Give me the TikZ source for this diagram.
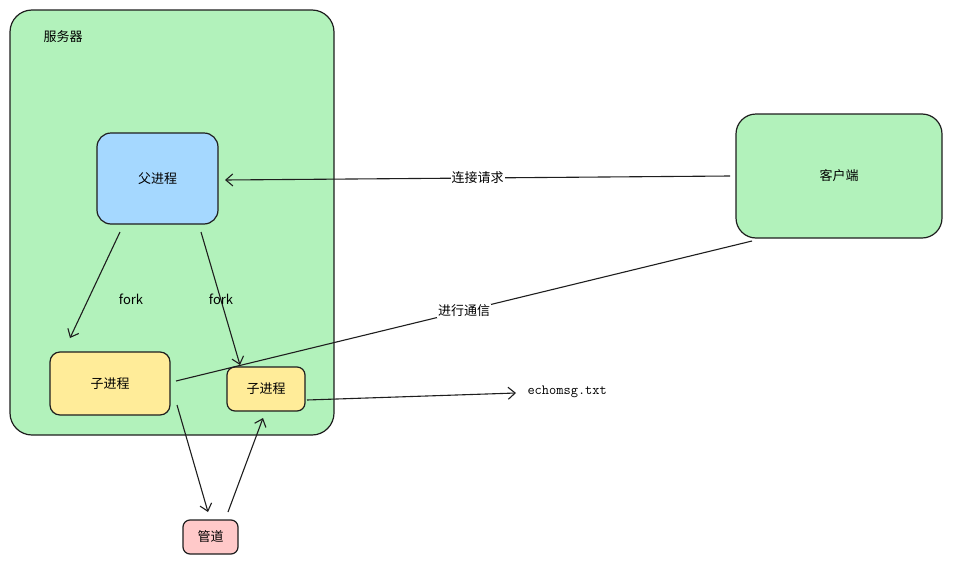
\documentclass[tikz,border=0pt]{standalone}
\usepackage{fontspec}
\setmainfont{Noto Sans CJK SC}
\usetikzlibrary{arrows.meta}
\definecolor{gr}{HTML}{B2F2BB}
\definecolor{bl}{HTML}{A5D8FF}
\definecolor{ye}{HTML}{FFEC99}
\definecolor{rd}{HTML}{FFC9C9}
\definecolor{ln}{HTML}{1E1E1E}
\begin{document}
\begin{tikzpicture}[x=1pt,y=-1pt,
 box/.style={draw=ln,line width=1.2pt,rounded corners=14pt,font=\fontsize{13}{15}\selectfont},
 arr/.style={draw=ln,line width=1.1pt,-{Straight Barb[length=7pt,width=12pt]}},
 lbl/.style={font=\fontsize{13}{15}\selectfont,fill=white,inner sep=1pt}]
\useasboundingbox (0,0) rectangle (953,565);
\draw[box,fill=gr,rounded corners=22pt] (10,10) rectangle (334,435);
\node[font=\fontsize{13}{15}\selectfont] (srv) at (63,37) {服务器};
\node[box,fill=bl,minimum width=121pt,minimum height=91pt] (p) at (157.5,178.5) {父进程};
\node[box,fill=gr,minimum width=206pt,minimum height=124pt,rounded corners=20pt] (c) at (839,176) {客户端};
\node[box,fill=ye,minimum width=120pt,minimum height=63pt,rounded corners=10pt] (c1) at (110,383.5) {子进程};
\node[box,fill=ye,minimum width=78pt,minimum height=44pt,rounded corners=8pt] (c2) at (266,389) {子进程};
\node[box,fill=rd,minimum width=55pt,minimum height=34pt,rounded corners=7pt] (pipe) at (210.5,537) {管道};
\node[font=\fontsize{14}{16}\selectfont\ttfamily,anchor=west] (f) at (524,392) {echomsg.txt};
\coordinate (ca) at (730,176); \coordinate (pa) at (225,180);
\draw[arr] (ca) -- node[lbl]{连接请求} (pa);
\coordinate (p1) at (120,232); \coordinate (k1) at (70,338);
\draw[arr] (p1) -- (k1);
\node[font=\fontsize{13}{15}\selectfont] (fk1) at (131,299) {fork};
\coordinate (p2) at (201,232); \coordinate (k2) at (240,365);
\draw[arr] (p2) -- (k2);
\node[lbl,fill=none] (fk2) at (221,299) {fork};
\coordinate (l1) at (176,381); \coordinate (l2) at (752,241);
\draw[draw=ln,line width=1.1pt] (l1) -- node[lbl,pos=0.5]{进行通信} (l2);
\coordinate (e1) at (307,400); \coordinate (e2) at (516,393);
\draw[arr] (e1) -- (e2);
\coordinate (a1) at (177,405); \coordinate (a2) at (208,512);
\draw[arr] (a1) -- (a2);
\coordinate (b1) at (228,512); \coordinate (b2) at (263,418);
\draw[arr] (b1) -- (b2);
\end{tikzpicture}
\end{document}
